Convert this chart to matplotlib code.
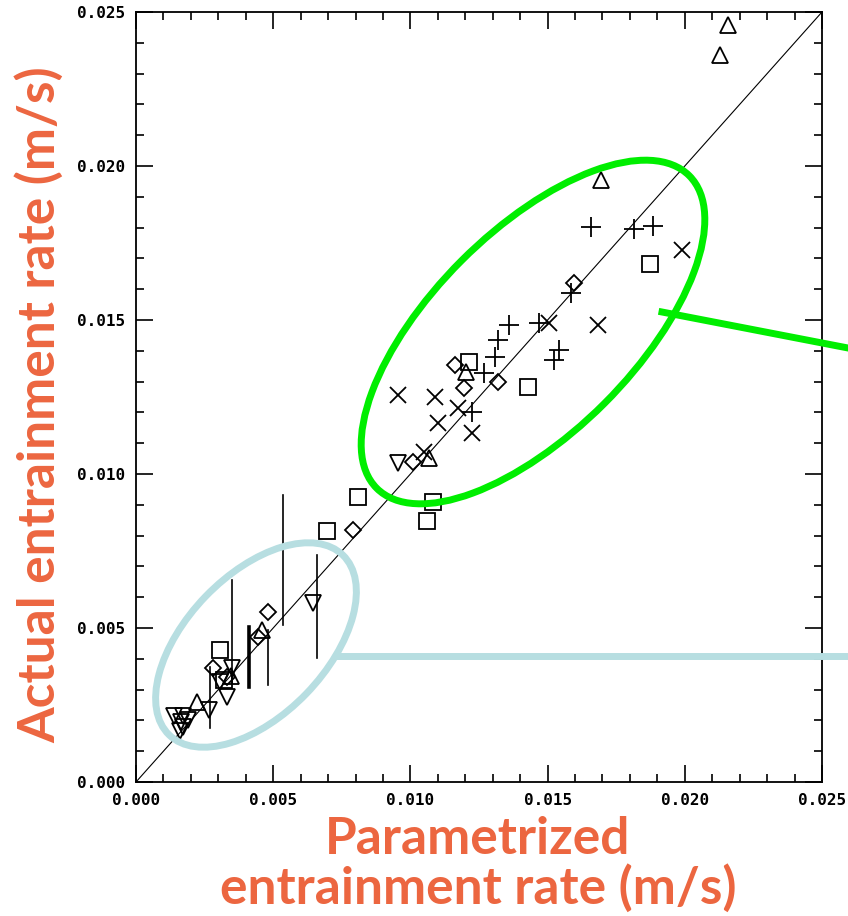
import matplotlib
matplotlib.use("Agg")
import matplotlib.pyplot as plt
from matplotlib.patches import Ellipse
from matplotlib.lines import Line2D
from matplotlib.transforms import IdentityTransform
from matplotlib.ticker import MultipleLocator, FormatStrFormatter

# ── data (m/s) ───────────────────────────────────────────────────────────────
tri_up_x = [0.02157, 0.02128, 0.01694, 0.01066, 0.01201, 0.00460, 0.00223, 0.00345]
tri_up_y = [0.02458, 0.02361, 0.01955, 0.01052, 0.01331, 0.00492, 0.00260, 0.00345]

tri_dn_x = [0.00953, 0.00646, 0.00350, 0.00332, 0.00267, 0.00190, 0.00170,
            0.00165, 0.00170, 0.00160, 0.00140, 0.00305]
tri_dn_y = [0.01036, 0.00581, 0.00370, 0.00277, 0.00234, 0.00200, 0.00215,
            0.00195, 0.00178, 0.00165, 0.00215, 0.00325]

diam_x = [0.00482, 0.00281, 0.00792, 0.01008, 0.01164, 0.01194, 0.01321,
          0.01595, 0.00330, 0.00445]
diam_y = [0.00552, 0.00370, 0.00818, 0.01039, 0.01354, 0.01279, 0.01299,
          0.01620, 0.00340, 0.00470]

sq_x = [0.00307, 0.00697, 0.00810, 0.01084, 0.01062, 0.01212, 0.01427, 0.01872, 0.00320]
sq_y = [0.00429, 0.00815, 0.00925, 0.00909, 0.00847, 0.01364, 0.01283, 0.01682, 0.00330]

plus_x = [0.01657, 0.01814, 0.01883, 0.01584, 0.01361, 0.01467, 0.01321,
          0.01310, 0.01267, 0.01226, 0.01540, 0.01522]
plus_y = [0.01802, 0.01796, 0.01805, 0.01588, 0.01484, 0.01490, 0.01435,
          0.01380, 0.01328, 0.01201, 0.01403, 0.01370]

cross_x = [0.01989, 0.01683, 0.01504, 0.00953, 0.01091, 0.01175, 0.01099, 0.01226, 0.01048]
cross_y = [0.01727, 0.01484, 0.01490, 0.01257, 0.01250, 0.01214, 0.01166, 0.01133, 0.01072]

# vertical error bars: x, low, high
eb_x  = [0.00270, 0.00350, 0.00412, 0.00482, 0.00537, 0.00661]
eb_lo = [0.00175, 0.00321, 0.00308, 0.00315, 0.00510, 0.00403]
eb_hi = [0.00373, 0.00656, 0.00503, 0.00494, 0.00932, 0.00737]
eb_w  = [1.2, 1.2, 2.6, 1.2, 1.2, 1.2]

W, H = 848, 916
ORANGE = "#EC6640"
GREEN = "#00EE00"
LBLUE = "#B7DEE1"

fig = plt.figure(figsize=(W / 100, H / 100), dpi=100)
ax = fig.add_axes([136 / W, 1 - 782 / H, 686 / W, 770 / H])

ax.plot([0, 0.025], [0, 0.025], color="black", lw=0.8, zorder=1)

for x, lo, hi, w in zip(eb_x, eb_lo, eb_hi, eb_w):
    ax.plot([x, x], [lo, hi], color="black", lw=w, zorder=2)

mk = dict(linestyle="none", markerfacecolor="none", markeredgecolor="black",
          markeredgewidth=1.3, zorder=3)
ax.plot(tri_up_x, tri_up_y, marker="^", markersize=11, **mk)
ax.plot(tri_dn_x, tri_dn_y, marker="v", markersize=11, **mk)
ax.plot(diam_x, diam_y, marker="D", markersize=8, **mk)
ax.plot(sq_x, sq_y, marker="s", markersize=11, **mk)
ax.plot(plus_x, plus_y, marker="+", markersize=15, **mk)
ax.plot(cross_x, cross_y, marker="x", markersize=12, **mk)

ax.set_xlim(0, 0.025)
ax.set_ylim(0, 0.025)
for axis in (ax.xaxis, ax.yaxis):
    axis.set_major_locator(MultipleLocator(0.005))
    axis.set_minor_locator(MultipleLocator(0.001))
    axis.set_major_formatter(FormatStrFormatter("%.3f"))
ax.tick_params(which="both", direction="in", top=True, right=True, width=1.2)
ax.tick_params(which="major", length=12, pad=8)
ax.tick_params(which="minor", length=6)
for lab in ax.get_xticklabels() + ax.get_yticklabels():
    lab.set_family("DejaVu Sans Mono")
    lab.set_fontweight("bold")
    lab.set_fontsize(11.5)
for s in ax.spines.values():
    s.set_linewidth(1.3)

# ── annotations, placed in image pixels ─────────────────────────────────────
def px(x, y):
    return x, H - y

ell_g = Ellipse(px(533, 332), 2 * 221, 2 * 101, angle=45, fill=False,
                edgecolor=GREEN, lw=5, transform=IdentityTransform(), zorder=5)
ell_b = Ellipse(px(256, 645), 2 * 125, 2 * 70, angle=46, fill=False,
                edgecolor=LBLUE, lw=5, transform=IdentityTransform(), zorder=5)
fig.add_artist(ell_g)
fig.add_artist(ell_b)
g0, g1 = px(662, 312), px(848, 348)
b0, b1 = px(338, 656), px(848, 656)
fig.add_artist(Line2D([g0[0], g1[0]], [g0[1], g1[1]], color=GREEN, lw=5,
                      transform=IdentityTransform(), zorder=5))
fig.add_artist(Line2D([b0[0], b1[0]], [b0[1], b1[1]], color=LBLUE, lw=5,
                      transform=IdentityTransform(), zorder=5))

lab_kw = dict(color=ORANGE, fontsize=37, fontweight="bold", family="Lato")
fig.text(40 / W, 1 - 405 / H, "Actual entrainment rate (m/s)", rotation=90,
         ha="center", va="center", **lab_kw)
fig.text(478 / W, 1 - 840 / H, "Parametrized", ha="center", va="center", **lab_kw)
fig.text(478 / W, 1 - 888 / H, "entrainment rate (m/s)", ha="center", va="center", **lab_kw)

plt.savefig("out.png", dpi=100)
